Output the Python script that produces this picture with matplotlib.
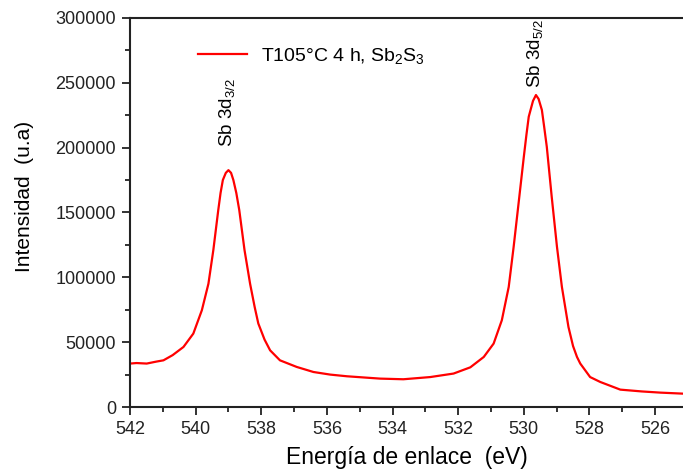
import numpy as np
import matplotlib.pyplot as plt
from matplotlib.ticker import MultipleLocator

plt.rcParams['font.family'] = ['Liberation Sans', 'DejaVu Sans']
plt.rcParams['mathtext.default'] = 'regular'

# Sb 3d spectrum (binding energy in eV, intensity in counts)
energy = [542.0, 541.8, 541.49, 541.2, 540.98, 540.7, 540.37, 540.07, 539.81,
          539.61, 539.46, 539.31, 539.24, 539.17, 539.08, 539.0, 538.92,
          538.85, 538.76, 538.67, 538.51, 538.34, 538.2, 538.09, 537.9,
          537.73, 537.43, 536.92, 536.41, 535.9, 535.39, 534.38, 533.67,
          532.85, 532.14, 531.63, 531.22, 530.92, 530.67, 530.46, 530.31,
          530.16, 530.0, 529.92, 529.85, 529.72, 529.63, 529.55, 529.45,
          529.38, 529.3, 529.15, 528.99, 528.84, 528.64, 528.5, 528.38,
          528.28, 527.98, 527.67, 527.06, 526.4, 525.84, 525.14]
intensity = [33500, 33900, 33500, 35000, 36000, 40000, 46300, 56600, 74600,
             95000, 121000, 151800, 165000, 175000, 180500, 182600, 180500,
             175000, 165000, 151800, 121000, 95000, 77000, 64400, 52000,
             43700, 36000, 30900, 27000, 25000, 23700, 21900, 21400,
             23100, 25800, 30600, 38600, 48900, 66900, 92600, 123500,
             157000, 192900, 210000, 223800, 236000, 240500, 237500, 229000,
             216000, 200600, 162000, 123500, 92600, 61700, 47000, 38600,
             33500, 23100, 19300, 13400, 12000, 11100, 10300]

label = 'T105°C 4 h, Sb$_2$S$_3$'
peak_pos = [539.0, 529.63]
peak_height = [182600, 240500]
peak_names = ['Sb 3d$_{3/2}$', 'Sb 3d$_{5/2}$']

fig = plt.figure(figsize=(6.83, 4.70), dpi=100)
ax = fig.add_axes([0.1903, 0.134, 0.8097, 0.828])

ax.plot(energy, intensity, color='#ff0000', lw=1.6, label=label)

for x, y, txt, gap in zip(peak_pos, peak_height, peak_names, [17, 5]):
    ax.annotate(txt, (x, y), xytext=(-1, gap), textcoords='offset points',
                rotation=90, ha='center', va='bottom', fontsize=13.5)

ax.set_xlim(542, 525.15)
ax.set_ylim(0, 300000)
ax.xaxis.set_major_locator(MultipleLocator(2))
ax.xaxis.set_minor_locator(MultipleLocator(1))
ax.yaxis.set_major_locator(MultipleLocator(50000))
ax.yaxis.set_minor_locator(MultipleLocator(25000))

for s in ['left', 'bottom', 'top']:
    ax.spines[s].set_linewidth(1.5)
    ax.spines[s].set_color('#222222')
ax.spines['right'].set_visible(False)
ax.tick_params(which='major', direction='out', length=6, width=1.3,
               labelsize=13, colors='#222222', pad=4)
ax.tick_params(which='minor', direction='out', length=3.5, width=1.3,
               colors='#222222')

ax.set_xlabel('Energía de enlace  (eV)', fontsize=16.5, labelpad=6)
ax.set_ylabel('Intensidad  (u.a)', fontsize=15, labelpad=8)
ax.yaxis.set_label_coords(-0.174, 0.542)

ax.legend(loc='center left', bbox_to_anchor=(0.092, 0.903), frameon=False,
          fontsize=14, handlelength=2.5, handletextpad=0.7)

fig.savefig('out.png', dpi=100)
